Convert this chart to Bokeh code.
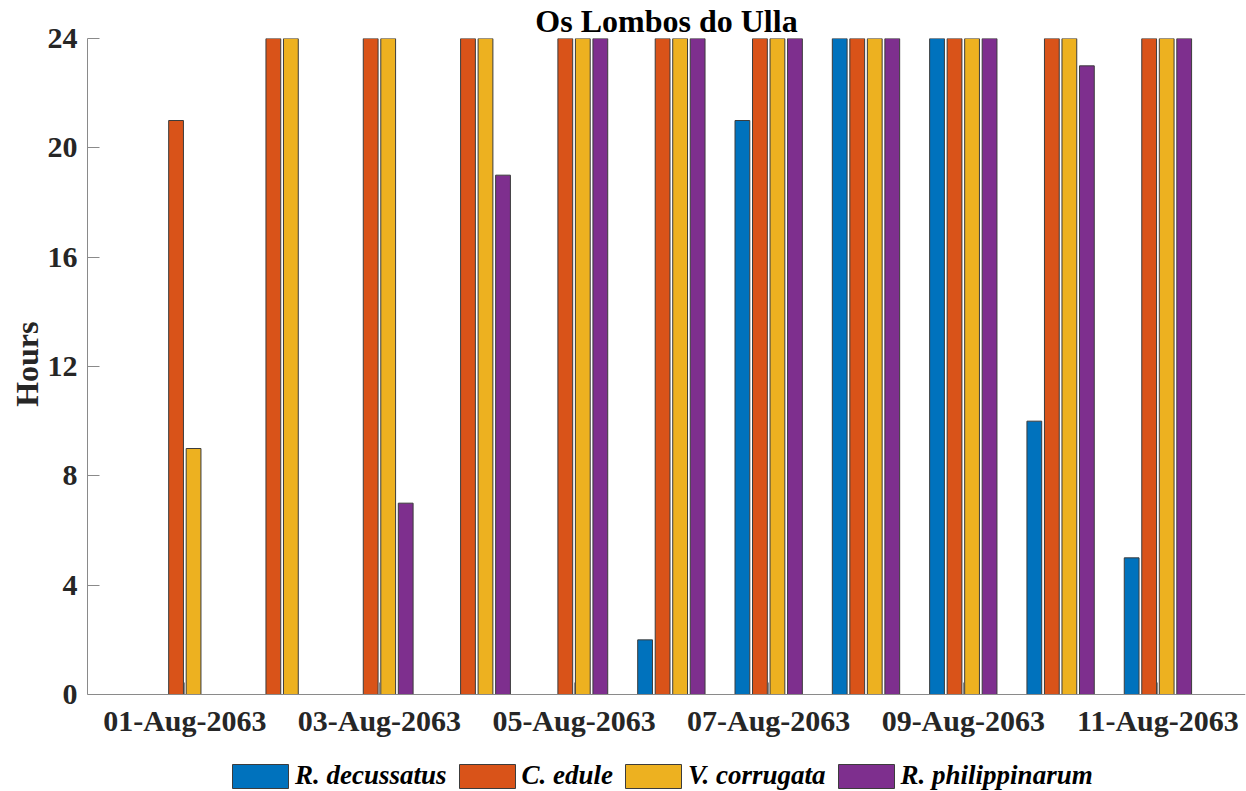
from bokeh.plotting import figure
from bokeh.models import Legend, LegendItem, FixedTicker, Range1d, ColumnDataSource, Title
from bokeh.embed import file_html
from bokeh.resources import INLINE

# Daily exposure hours per species, 1-11 August 2063
days = list(range(1, 12))
date_labels = ["01-Aug-2063", "02-Aug-2063", "03-Aug-2063", "04-Aug-2063",
               "05-Aug-2063", "06-Aug-2063", "07-Aug-2063", "08-Aug-2063",
               "09-Aug-2063", "10-Aug-2063", "11-Aug-2063"]
species = ["R. decussatus", "C. edule", "V. corrugata", "R. philippinarum"]
r_decussatus = [0, 0, 0, 0, 0, 2, 21, 24, 24, 10, 5]
c_edule = [21, 24, 24, 24, 24, 24, 24, 24, 24, 24, 24]
v_corrugata = [9, 24, 24, 24, 24, 24, 24, 24, 24, 24, 24]
r_philippinarum = [0, 0, 7, 19, 24, 24, 24, 24, 24, 23, 24]
y_ticks = [0, 4, 8, 12, 16, 20, 24]

series = [r_decussatus, c_edule, v_corrugata, r_philippinarum]
colors = ["#0072BD", "#D95319", "#EDB120", "#7E2F8E"]

FONT = "Liberation Serif"
TEXT = "#262626"
AXIS = "#8a8a8a"

# The frame runs to the bottom of the canvas; the value axis spans 0-24 and the
# space below zero holds the date labels and the legend.
Y_MAX = 24
Y_MIN = -97 / (656 / Y_MAX)

p = figure(width=1246, height=791, output_backend="svg", toolbar_location=None,
           x_range=Range1d(0, 11.9), y_range=Range1d(Y_MIN, Y_MAX),
           min_border_left=87, min_border_right=1, min_border_top=38,
           min_border_bottom=0, title="Os Lombos do Ulla")
p.outline_line_color = None
p.xgrid.visible = False
p.ygrid.visible = False

p.title.align = "center"
p.title.text_font = FONT
p.title.text_font_size = "32px"
p.title.text_font_style = "bold"
p.title.text_color = "black"
p.title.standoff = 0

pitch = 0.18
bar_w = 0.152
renderers = []
for i, (vals, col) in enumerate(zip(series, colors)):
    off = (i - 1.5) * pitch
    src = ColumnDataSource(dict(x=[d + off for d in days], top=vals))
    r = p.vbar(x="x", top="top", bottom=0, width=bar_w, source=src,
               fill_color=col, line_color="#3c3c3c", line_width=1)
    renderers.append(r)

# axes
for ax in (p.xaxis[0], p.yaxis[0]):
    ax.axis_line_color = AXIS
    ax.major_tick_line_color = AXIS
    ax.major_tick_in = 12
    ax.major_tick_out = 0
    ax.minor_tick_line_color = None
    ax.major_label_text_font = FONT
    ax.major_label_text_font_style = "bold"
    ax.major_label_text_font_size = "30px"
    ax.major_label_text_color = TEXT

p.xaxis.fixed_location = 0
p.xaxis.ticker = FixedTicker(ticks=days[::2])
p.xaxis.major_label_overrides = {d: lab for d, lab in zip(days, date_labels)}
p.xaxis.major_label_standoff = 9

p.yaxis.bounds = (0, Y_MAX)
p.yaxis.ticker = FixedTicker(ticks=y_ticks)
p.yaxis.major_label_standoff = 10

# value-axis title, centred on the 0-24 span
p.add_layout(Title(text="Hours", align="right", offset=283, standoff=0,
                   text_font=FONT, text_font_style="bold", text_font_size="32px",
                   text_color=TEXT), "left")

legend = Legend(items=[LegendItem(label=n, renderers=[r]) for n, r in zip(species, renderers)],
                orientation="horizontal", location=(138, 0),
                glyph_width=70, glyph_height=30, label_standoff=0, spacing=5,
                padding=0, margin=0, border_line_color=None, background_fill_alpha=0,
                label_text_font=FONT, label_text_font_style="bold italic",
                label_text_font_size="27px", label_text_color="black")
p.add_layout(legend, "center")

open("out.html", "w").write(file_html(p, INLINE))
